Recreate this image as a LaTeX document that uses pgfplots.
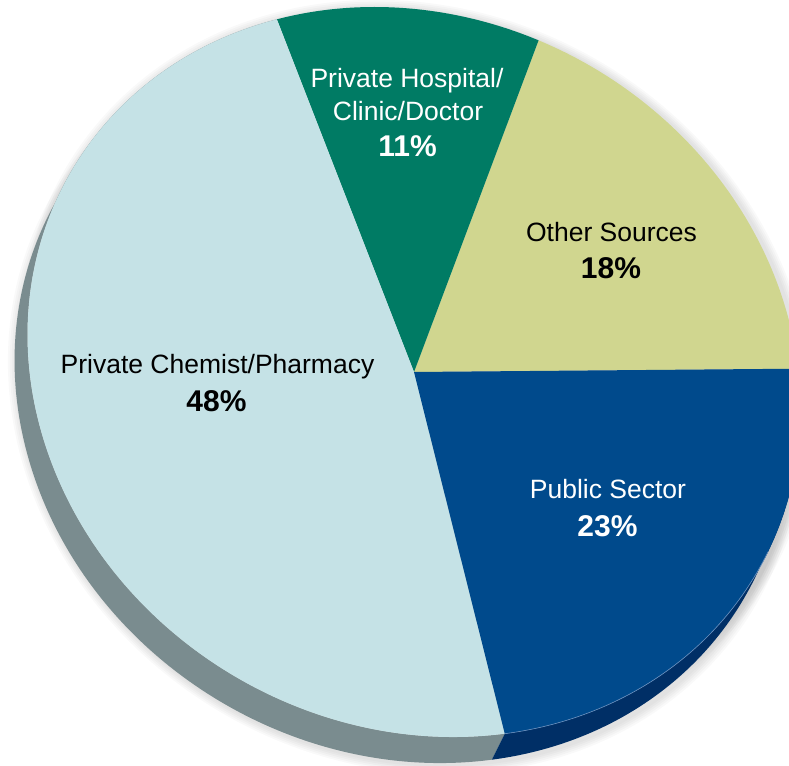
\documentclass[border=0pt]{standalone}
\usepackage{pgfplots}
\usepackage{pgfplotstable}
\pgfplotsset{compat=1.18}
\usepackage{fontspec}
\setmainfont{Liberation Sans}

\definecolor{chemist}{HTML}{C5E2E6}
\definecolor{chemistside}{HTML}{7A8C8F}
\definecolor{hospital}{HTML}{007B64}
\definecolor{other}{HTML}{D0D68F}
\definecolor{public}{HTML}{004A8C}
\definecolor{publicside}{HTML}{002F66}
\definecolor{publicedge}{HTML}{6A90BE}

\newcommand\reg{\fontsize{13.25}{15}\selectfont}
\newcommand\pct{\fontsize{15}{18}\selectfont\bfseries}

% shares in percent, counter-clockwise from 3 o'clock
\pgfplotstableread{
source share
other 18
hospital 11
chemist 48
public 23
}\sharetable

\begin{document}
\begin{tikzpicture}
\pgfplotstablegetelem{0}{share}\of\sharetable
\pgfmathsetmacro\aOne{3.6*\pgfplotsretval}
\pgfplotstablegetelem{1}{share}\of\sharetable
\pgfmathsetmacro\aTwo{\aOne+3.6*\pgfplotsretval}
\pgfplotstablegetelem{2}{share}\of\sharetable
\pgfmathsetmacro\aThree{\aTwo+3.6*\pgfplotsretval}
% tilted disc: unit circle of radius 10pt mapped onto the pie
\tikzset{pie/.style={shift={(axis cs:414,394)},cm={19.2,0.165,-2.15,18.25,(0pt,0pt)}}}
\useasboundingbox (0,0) rectangle (394.5pt,383pt);
\clip (0,0) rectangle (394.5pt,383pt);
\begin{axis}[at={(0pt,0pt)}, anchor=south west,
  x=0.5pt, y=0.5pt,
  xmin=0, xmax=789, ymin=0, ymax=766,
  hide axis, clip=false]

% soft drop shadow
\fill[black, opacity=.025, pie] (0.072pt,-0.055pt) circle[radius=10.05pt];
\fill[black, opacity=.025, pie] (0.072pt,-0.055pt) circle[radius=10.10pt];
\fill[black, opacity=.025, pie] (0.072pt,-0.055pt) circle[radius=10.15pt];
\fill[black, opacity=.025, pie] (0.072pt,-0.055pt) circle[radius=10.20pt];
\fill[black, opacity=.025, pie] (0.072pt,-0.055pt) circle[radius=10.25pt];
\fill[black, opacity=.025, pie] (-0.346pt,-0.764pt) circle[radius=10.05pt];
\fill[black, opacity=.025, pie] (-0.346pt,-0.764pt) circle[radius=10.10pt];
\fill[black, opacity=.025, pie] (-0.346pt,-0.764pt) circle[radius=10.15pt];
\fill[black, opacity=.025, pie] (-0.346pt,-0.764pt) circle[radius=10.20pt];
\fill[black, opacity=.025, pie] (-0.346pt,-0.764pt) circle[radius=10.25pt];

% side walls
\fill[chemistside, pie] (\aTwo:10pt) arc[start angle=\aTwo, end angle=\aThree, radius=10pt]
  -- ++(-0.418pt,-0.709pt) arc[start angle=\aThree, end angle=\aTwo, radius=10pt] -- cycle;
\fill[publicside, pie] (\aThree:10pt) arc[start angle=\aThree, end angle=360, radius=10pt]
  -- ++(-0.418pt,-0.709pt) arc[start angle=360, end angle=\aThree, radius=10pt] -- cycle;

% top faces
\fill[other, pie] (0pt,0pt) -- (0:10pt) arc[start angle=0, end angle=\aOne, radius=10pt] -- cycle;
\fill[hospital, pie] (0pt,0pt) -- (\aOne:10pt) arc[start angle=\aOne, end angle=\aTwo, radius=10pt] -- cycle;
\fill[chemist, pie] (0pt,0pt) -- (\aTwo:10pt) arc[start angle=\aTwo, end angle=\aThree, radius=10pt] -- cycle;
\fill[public, pie] (0pt,0pt) -- (\aThree:10pt) arc[start angle=\aThree, end angle=360, radius=10pt] -- cycle;
\draw[publicedge, line width=0.3pt, pie] (\aThree:10pt) arc[start angle=\aThree, end angle=330, radius=10pt];

% labels
\node[anchor=base, inner sep=0pt, text=white, font=\reg] at (axis cs:407,678) {Private Hospital/};
\node[anchor=base, inner sep=0pt, text=white, font=\reg] at (axis cs:408,645) {Clinic/Doctor};
\node[anchor=base, inner sep=0pt, text=white, font=\pct] at (axis cs:407.5,609) {11\%};
\node[anchor=base, inner sep=0pt, font=\reg] at (axis cs:611.5,524) {Other Sources};
\node[anchor=base, inner sep=0pt, font=\pct] at (axis cs:611,487) {18\%};
\node[anchor=base, inner sep=0pt, font=\reg] at (axis cs:217.5,392) {Private Chemist/Pharmacy};
\node[anchor=base, inner sep=0pt, font=\pct] at (axis cs:216.5,354) {48\%};
\node[anchor=base, inner sep=0pt, text=white, font=\reg] at (axis cs:608,267) {Public Sector};
\node[anchor=base, inner sep=0pt, text=white, font=\pct] at (axis cs:607.5,229) {23\%};
\end{axis}
\end{tikzpicture}
\end{document}
